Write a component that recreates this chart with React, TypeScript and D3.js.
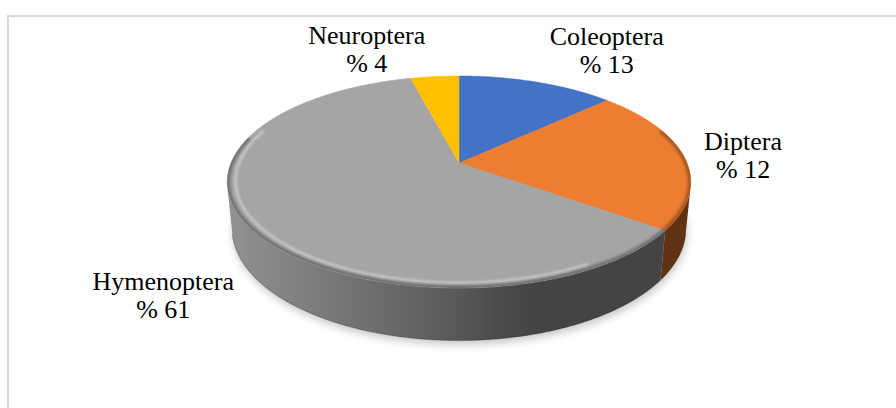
import React from 'react';
import * as d3 from 'd3';

// ---- data ----
const categories = ['Coleoptera', 'Diptera', 'Hymenoptera', 'Neuroptera'];
const values = [13, 22, 61, 4];
const valueLabels = ['% 13', '% 12', '% 61', '% 4'];
const colors = ['#4472C4', '#ED7D31', '#A5A5A5', '#FFC000'];
const labelOffsets: [number, number][] = [[70, -37.5], [59, -7], [-86, 63], [-68, -32.5]];

// ---- layout ----
const W = 896, H = 408;
const CX = 459, CY = 163;
const D = 4.99, F = 1138, SIN = 0.45, COS = Math.sqrt(1 - SIN * SIN);
const DEPTH = 0.23;
const DEG = Math.PI / 180;

function proj(theta: number, r: number, y: number): [number, number] {
  const x = r * Math.sin(theta), z = r * Math.cos(theta);
  const w = D - y * SIN + z * COS;
  const up = y * COS + z * SIN;
  return [CX + (F * x) / w, CY - (F * up) / w];
}

function arcPts(a0: number, a1: number, r: number, y: number, step = 0.5 * DEG) {
  const n = Math.max(2, Math.ceil(Math.abs(a1 - a0) / step));
  const pts: [number, number][] = [];
  for (let i = 0; i <= n; i++) pts.push(proj(a0 + ((a1 - a0) * i) / n, r, y));
  return pts;
}

function shade(base: string, theta: number) {
  const dot = Math.sin(theta) * -0.97 + Math.cos(theta) * -0.25;
  const b = 0.41 + 0.47 * Math.max(0, dot);
  const c = d3.rgb(base);
  return d3.rgb(c.r * b, c.g * b, c.b * b).formatHex();
}

export default function App() {
  const pie = d3.pie<number>().sort(null).value((d) => d);
  const arcs = pie(values);
  const line = d3.line();
  const visStart = Math.acos(-1 / (D * COS));
  const visEnd = 2 * Math.PI - visStart;

  const gradients: JSX.Element[] = [];
  const walls: JSX.Element[] = [];
  arcs.forEach((a, i) => {
    const t0 = Math.max(a.startAngle, visStart);
    const t1 = Math.min(a.endAngle, visEnd);
    if (t1 <= t0) return;
    const top = arcPts(t0, t1, 1, 0);
    const bot = arcPts(t1, t0, 1, -DEPTH);
    const xs = top.map((p) => p[0]);
    const xmin = d3.min(xs)!, xmax = d3.max(xs)!;
    const N = 24;
    const stops = d3.range(N + 1).map((k) => {
      const t = t0 + ((t1 - t0) * k) / N;
      const x = proj(t, 1, 0)[0];
      return { off: (x - xmin) / Math.max(1, xmax - xmin), col: shade(colors[i], t) };
    }).sort((p, q) => p.off - q.off);
    gradients.push(
      <linearGradient key={`g${i}`} id={`wg${i}`} gradientUnits="userSpaceOnUse" x1={xmin} y1={0} x2={xmax} y2={0}>
        {stops.map((s, k) => <stop key={k} offset={s.off} stopColor={s.col} />)}
      </linearGradient>
    );
    walls.push(<path key={`w${i}`} d={line([...top, ...bot] as any) + 'Z'} fill={`url(#wg${i})`} />);
  });

  const rimTop = line(arcPts(0, 2 * Math.PI, 1, 0) as any) + 'Z';
  const rimBottom = line(arcPts(0, 2 * Math.PI, 1, -DEPTH) as any) + 'Z';
  const bottomEdge = line(arcPts(visStart, visEnd, 1, -DEPTH) as any);
  const highlight = line(arcPts(150 * DEG, 290 * DEG, 0.965, 0) as any);
  const darkRim = line(arcPts(70 * DEG, 285 * DEG, 1, 0) as any);

  return (
    <svg width={W} height={H} style={{ position: 'absolute', left: 0, top: 0, background: '#fff' }}>
      <defs>
        {gradients}
        <filter id="shadowBlur" x="-20%" y="-20%" width="140%" height="140%">
          <feGaussianBlur stdDeviation={4} />
        </filter>
        <filter id="soft" x="-10%" y="-10%" width="120%" height="120%">
          <feGaussianBlur stdDeviation={1.6} />
        </filter>
        <filter id="soft2" x="-10%" y="-10%" width="120%" height="120%">
          <feGaussianBlur stdDeviation={1.2} />
        </filter>
        <clipPath id="topClip">
          <path d={rimTop} />
        </clipPath>
      </defs>
      <rect x={8} y={16} width={W + 20} height={H + 20} fill="#fff" stroke="#d9d9d9" strokeWidth={2} />

      {/* drop shadow */}
      <path d={rimBottom} transform="translate(1,4)" fill="#000" opacity={0.22} filter="url(#shadowBlur)" />

      {/* walls */}
      <g>{walls}</g>
      <path d={bottomEdge ?? ''} fill="none" stroke="#000" strokeOpacity={0.2} strokeWidth={1.2} />

      {/* top faces */}
      {arcs.map((a, i) => {
        const pts = [proj(0, 0, 0), ...arcPts(a.startAngle, a.endAngle, 1, 0)];
        return <path key={`t${i}`} d={line(pts as any) + 'Z'} fill={colors[i]} stroke={colors[i]} strokeWidth={0.5} />;
      })}

      {/* bevel */}
      <g clipPath="url(#topClip)">
        <path d={darkRim ?? ''} fill="none" stroke="#000" strokeOpacity={0.32} strokeWidth={6} filter="url(#soft)" />
        <path d={highlight ?? ''} fill="none" stroke="#fff" strokeOpacity={0.4} strokeWidth={2.5} filter="url(#soft2)" />
      </g>

      {/* labels */}
      {arcs.map((a, i) => {
        const mid = (a.startAngle + a.endAngle) / 2;
        const [ax, ay] = proj(mid, 1, 0);
        const x = ax + labelOffsets[i][0];
        const y = ay + labelOffsets[i][1];
        return (
          <text key={`l${i}`} x={x} y={y} textAnchor="middle" fontFamily="'Liberation Serif', 'Times New Roman', serif" fontSize={26} fill="#000">
            <tspan x={x} y={y}>{categories[i]}</tspan>
            <tspan x={x} y={y + 28}>{valueLabels[i]}</tspan>
          </text>
        );
      })}
    </svg>
  );
}
